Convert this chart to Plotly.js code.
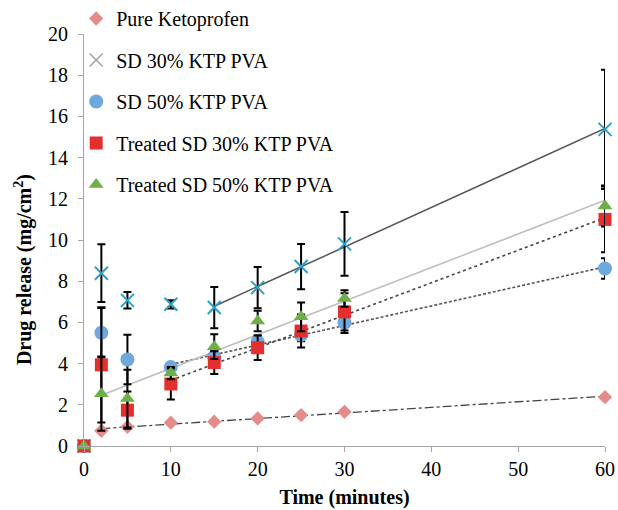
<!DOCTYPE html>
<html><head><meta charset="utf-8">
<script src="https://cdn.plot.ly/plotly-3.0.1.min.js"></script>
<style>html,body{margin:0;padding:0;background:#fff}#chart{width:618px;height:510px}</style>
</head><body><div id="chart"></div>
<script>
const time = [0, 2, 5, 10, 15, 20, 25, 30, 60];
const seriesNames = ["Pure Ketoprofen", "SD 30% KTP PVA", "SD 50% KTP PVA", "Treated SD 30% KTP PVA", "Treated SD 50% KTP PVA"];
const pureKeto     = [0, 0.74, 0.93, 1.13, 1.18, 1.34, 1.50, 1.66, 2.37];
const sd30         = [0, 8.39, 7.07, 6.88, 6.72, 7.69, 8.71, 9.81, 15.37];
const sd30Err      = [0, 1.40, 0.40, 0.20, 1.00, 1.00, 1.10, 1.55, 2.90];
const sd50         = [0, 5.50, 4.20, 3.83, 4.34, 5.06, 5.39, 5.98, 8.62];
const sd50Err      = [0, 1.20, 1.20, 0.10, 0.30, 0.30, 0.30, 0.50, 0.50];
const tsd30        = [0, 3.94, 1.74, 3.01, 4.05, 4.77, 5.58, 6.51, 11.00];
const tsd30Err     = [0, 2.80, 0.90, 0.75, 0.55, 0.60, 0.80, 0.90, 1.60];
const tsd50        = [0, 2.54, 2.30, 3.54, 4.82, 6.07, 6.27, 7.16, 11.65];
const tsd50Err     = [0, 1.80, 1.40, 0.30, 0.60, 0.50, 0.70, 0.40, 1.00];
// first time point used by each linear trendline
const trendStart   = [2, 15, 10, 10, 2];

function fit(xs, ys, x0) {
  const px = [], py = [];
  xs.forEach((x, i) => { if (x >= x0) { px.push(x); py.push(ys[i]); } });
  const n = px.length;
  const mx = px.reduce((a, b) => a + b, 0) / n;
  const my = py.reduce((a, b) => a + b, 0) / n;
  let sxy = 0, sxx = 0;
  for (let i = 0; i < n; i++) { sxy += (px[i] - mx) * (py[i] - my); sxx += (px[i] - mx) ** 2; }
  const b = sxy / sxx, a = my - b * mx;
  const xe = [px[0], px[n - 1]];
  return { x: xe, y: xe.map(x => a + b * x) };
}

const serif = "Liberation Serif, Times New Roman, serif";
const allY = [pureKeto, sd30, sd50, tsd30, tsd50];
const trendStyles = [
  { color: "#444", width: 1.3, dash: "dashdot" },
  { color: "#555", width: 1.5, dash: "solid" },
  { color: "#555", width: 1.6, dash: "3px,2px" },
  { color: "#444", width: 1.6, dash: "dot" },
  { color: "#bdbdbd", width: 1.5, dash: "solid" }
];
const traces = [];
allY.forEach((ys, i) => {
  const f = fit(time, ys, trendStart[i]);
  traces.push({ x: f.x, y: f.y, mode: "lines", line: trendStyles[i], showlegend: false, hoverinfo: "skip" });
});

const errStyle = arr => ({ type: "data", array: arr, visible: true, color: "#000", thickness: 2, width: 4 });
const markerDefs = [
  { ys: pureKeto, err: null, marker: { symbol: "diamond", size: 11, color: "#e48c8c" } },
  { ys: sd30, err: sd30Err, marker: { symbol: "x-thin", size: 13, color: "#2f9fc4", line: { width: 2, color: "#2f9fc4" } } },
  { ys: sd50, err: sd50Err, marker: { symbol: "circle", size: 14, color: "#6fa8dc" } },
  { ys: tsd30, err: tsd30Err, marker: { symbol: "square", size: 13, color: "#e42f2f" } },
  { ys: tsd50, err: tsd50Err, marker: { symbol: "triangle-up", size: 13, color: "#6fb046" } }
];
markerDefs.forEach((d, i) => {
  const t = { x: time, y: d.ys, mode: "markers", marker: d.marker, name: seriesNames[i], cliponaxis: false,
              legendgroup: "g" + i, showlegend: i !== 1 };
  if (d.err) t.error_y = errStyle(d.err);
  traces.push(t);
  if (i === 1) {
    traces.push({ x: [null], y: [null], mode: "markers", name: seriesNames[i], legendgroup: "g" + i,
      marker: { symbol: "x-thin", size: 13, color: "#a0a0a0", line: { width: 1.5, color: "#a0a0a0" } } });
  }
});

const layout = {
  width: 618, height: 510,
  margin: { l: 84, r: 13, t: 34, b: 64, autoexpand: false },
  paper_bgcolor: "#fff", plot_bgcolor: "#fff",
  font: { family: serif, size: 20, color: "#000" },
  showlegend: true,
  legend: { x: -0.015, xanchor: "left", y: 1.085, yanchor: "top", bgcolor: "rgba(0,0,0,0)",
            traceorder: "grouped", tracegroupgap: 12.5, font: { family: serif, size: 20, color: "#000" } },
  xaxis: { range: [0, 60], tickvals: [0, 10, 20, 30, 40, 50, 60], showgrid: false, zeroline: false,
           showline: true, linecolor: "#a6a6a6", linewidth: 1, ticks: "outside", ticklen: 5, tickcolor: "#a6a6a6",
           tickfont: { family: serif, size: 20 },
           title: { text: "<b>Time (minutes)</b>", font: { family: serif, size: 20 }, standoff: 10 } },
  yaxis: { range: [0, 20], tickvals: [0, 2, 4, 6, 8, 10, 12, 14, 16, 18, 20], showgrid: false, zeroline: false,
           showline: true, linecolor: "#a6a6a6", linewidth: 1, ticks: "outside", ticklen: 5, tickcolor: "#a6a6a6",
           tickfont: { family: serif, size: 20 }, ticklabelstandoff: 6 },
  annotations: [{ text: "<b>Drug release (mg/cm<sup>2</sup>)</b>", textangle: -90, xref: "paper", yref: "paper",
                  x: -0.117, y: 0.427, xanchor: "center", yanchor: "middle", showarrow: false,
                  font: { family: serif, size: 20, color: "#000" } }]
};
Plotly.newPlot("chart", traces, layout, { displayModeBar: false, staticPlot: true });
</script></body></html>
